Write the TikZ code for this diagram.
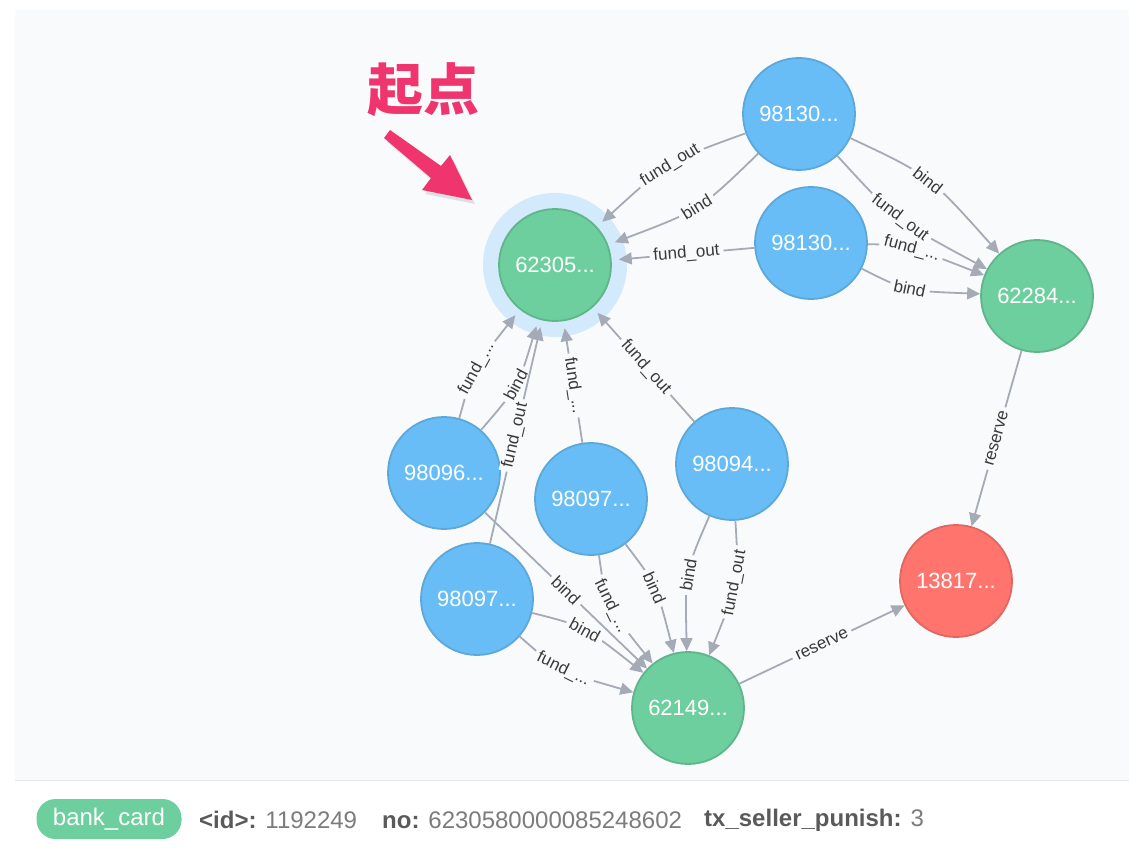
\documentclass[tikz,border=0pt]{standalone}
\usepackage{fontspec}
\setmainfont{Liberation Sans}
\newfontfamily\cjk{Noto Sans CJK SC}
\usetikzlibrary{arrows.meta}
\definecolor{bgc}{HTML}{F9FAFB}
\definecolor{sepc}{HTML}{E6E8EC}
\definecolor{edgec}{HTML}{A5ABB6}
\definecolor{bluef}{HTML}{68BDF6}
\definecolor{blued}{HTML}{5CA8DB}
\definecolor{greenf}{HTML}{6DCE9E}
\definecolor{greend}{HTML}{60B58B}
\definecolor{redf}{HTML}{FF756E}
\definecolor{redd}{HTML}{E06760}
\definecolor{haloc}{HTML}{D3E9FC}
\definecolor{pinkc}{HTML}{F0356E}
\definecolor{labc}{HTML}{3A3A3A}
\definecolor{keyc}{HTML}{5A5A5A}
\definecolor{valc}{HTML}{7C7C7C}
\begin{document}
\begin{tikzpicture}[x=1pt,y=-1pt,
  nd/.style={circle, minimum size=112pt, inner sep=0pt, line width=1.8pt, text=white, font=\fontsize{22}{22}\selectfont},
  bn/.style={nd, fill=bluef, draw=blued},
  gn/.style={nd, fill=greenf, draw=greend},
  rn/.style={nd, fill=redf, draw=redd},
  rel/.style={draw=edgec, line width=1.8pt, -{Triangle[length=13pt,width=12pt]}},
  lab/.style={sloped, pos=.5, fill=bgc, text=labc, inner xsep=4pt, inner ysep=0.5pt, font=\fontsize{17}{17}\selectfont},
  pill/.style={fill=greenf, rounded corners=19pt, minimum width=145pt, minimum height=40pt, inner sep=0pt, text=white, font=\fontsize{24}{24}\selectfont},
  legtxt/.style={anchor=west, inner sep=0pt, text=valc, font=\fontsize{24}{24}\selectfont}
]
\useasboundingbox (0,0) rectangle (1129,848);
\fill[white] (0,0) rectangle (1129,848);
\fill[bgc] (15,10) rectangle (1129,780);
\draw[sepc, line width=1pt] (15,780) -- (1129,780);

% start marker
\node[text=pinkc, font=\cjk\bfseries\fontsize{56}{56}\selectfont, inner sep=0pt] (qd) at (423,90) {起点};
\fill[black, opacity=.10] (393,134) -- (444,170) -- (453,159) -- (475,204) -- (425,194) -- (434,182) -- (387,142) -- cycle;
\fill[pinkc] (390,130) -- (441,166) -- (450,155) -- (472,200) -- (422,190) -- (431,178) -- (384,138) -- cycle;

% nodes
\fill[haloc] (555,265) circle[radius=72pt];
\node[gn, outer sep=8pt] (A) at (555,265) {62305...};
\node[bn] (B1) at (799,114) {98130...};
\node[bn] (B2) at (811,243) {98130...};
\node[gn] (C) at (1037,296) {62284...};
\node[rn] (D) at (956,581) {13817...};
\node[gn] (E) at (688,708) {62149...};
\node[bn] (F) at (444,473) {98096...};
\node[bn] (G) at (591,499) {98097...};
\node[bn] (H) at (732,464) {98094...};
\node[bn] (I) at (477,599) {98097...};

% edges into A
\draw[rel] (B1) .. controls (669,161) .. (A) node[lab] {fund\_out};
\draw[rel] (B1) .. controls (700,210) .. (A) node[lab] {bind};
\draw[rel] (B2) -- (A) node[lab] {fund\_out};
\draw[rel] (F) .. controls (473,369) .. (A) node[lab] {fund\_...};
\draw[rel] (F) .. controls (518,387) .. (A) node[lab] {bind};
\draw[rel] (I) -- (A) node[lab] {fund\_out};
\draw[rel] (G) -- (A) node[lab] {fund\_...};
\draw[rel] (H) -- (A) node[lab] {fund\_out};

% edges into C
\draw[rel] (B1) .. controls (929,175) .. (C) node[lab] {bind};
\draw[rel] (B2) .. controls (907,245) .. (C) node[lab] {fund\_...};
\draw[rel] (B1) .. controls (896,220) .. (C) node[lab] {fund\_out};
\draw[rel] (B2) .. controls (906,291) .. (C) node[lab] {bind};

% edges into E
\draw[rel] (F) -- (E) node[lab] {bind};
\draw[rel] (I) .. controls (584,626) .. (E) node[lab] {bind};
\draw[rel] (I) .. controls (559,671) .. (E) node[lab] {fund\_...};
\draw[rel] (G) .. controls (606,605) .. (E) node[lab] {fund\_...};
\draw[rel] (G) .. controls (656,584) .. (E) node[lab] {bind};
\draw[rel] (H) .. controls (685,572) .. (E) node[lab] {bind};
\draw[rel] (H) .. controls (739,581) .. (E) node[lab] {fund\_out};

% edges into D
\draw[rel] (C) -- (D) node[lab] {reserve};
\draw[rel] (E) -- (D) node[lab] {reserve};

% legend
\node[pill] (leg) at (109,819) {bank\_card};
\node[legtxt] (k1) at (199,820) {{\color{keyc}\bfseries <id>:} 1192249};
\node[legtxt] (k2) at (382,820) {{\color{keyc}\bfseries no:} 6230580000085248602};
\node[legtxt] (k3) at (704,820) {{\color{keyc}\bfseries tx\_seller\_punish:} 3};
\end{tikzpicture}
\end{document}
